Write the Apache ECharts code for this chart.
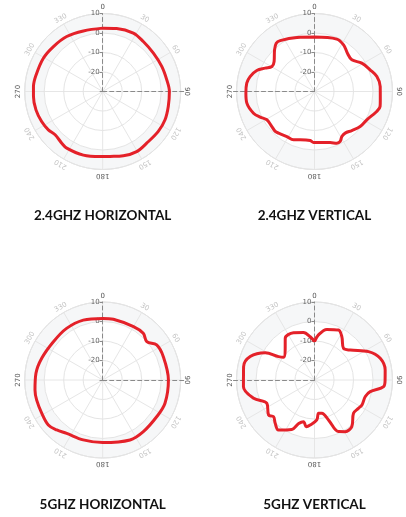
<!DOCTYPE html>
<html><head><meta charset="utf-8">
<script src="https://cdn.jsdelivr.net/npm/echarts@6/dist/echarts.min.js"></script>
<style>html,body{margin:0;padding:0;background:#fff}#c{width:406px;height:517px}</style>
</head><body><div id="c"></div>
<script>
// ---- tick labels ----
const angleTicks = [0,30,60,90,120,150,180,210,240,270,300,330];
const angleTickLabels = ['0','30','60','90','120','150','180','210','240','270','300','330'];
const majorAngleLabels = ['0','90','180','270'];
const radiusMin = -30, radiusMax = 10, radiusStep = 10;
const titles = ['2.4GHZ HORIZONTAL','2.4GHZ VERTICAL','5GHZ HORIZONTAL','5GHZ VERTICAL'];

// ---- data: angle (deg) and gain (dB) ----
const h24Angles = [0,12.5,27.7,39.1,52.9,67,79.7,90,102.9,114.4,125.7,139.6,150.5,162.2,173.6,182.3,196.9,212.4,218.4,227.7,234.8,243.8,254.6,265.9,274.1,284,299.3,312.4,326.8,342.3];
const h24Gain   = [2.5,3.1,3.8,3.0,2.6,2.9,3.4,4.2,4.5,5.1,5.1,4.8,5.4,4.6,3.5,3.4,4.1,4.4,3.8,3.0,4.1,4.9,5.5,5.6,5.6,5.2,4.9,4.2,3.7,2.6];

const v24Angles = [0,23,31.9,40.7,49.7,59,68.7,76.5,85.6,97,102.9,107.8,118.4,127.5,136.3,143.6,148.7,152.8,156.6,163,181,185,196.5,203.5,211.6,220.8,224.5,230.6,239.3,244.7,250.4,260.2,268.6,277,283,290,295.3,300.4,306.6,316.2,321.6,326,342];
const v24Gain   = [-2.1,-0.8,-1.8,-4.1,-4.9,-1.7,0.6,2.9,3.8,4.0,4.5,3.5,0.5,-0.5,-2.3,-3.5,-3.0,-1.2,-1.1,-2.6,-3.8,-4.8,-4.2,-3.0,-2.9,-1.8,-1.3,-1.7,-1.6,0.8,3.2,5.2,5.2,5.0,3.9,1.5,-2.0,-4.7,-4.2,-0.4,1.6,1.5,-0.9];

const h5Angles = [0,10,30,41,48.9,57,69,90,110.5,124,141.8,155.5,180,198,214,222.6,230.4,241.3,253,261.6,275.7,289.6,307.8,325,342];
const h5Gain   = [1.6,1.6,1.6,1.7,0.0,3.0,3.3,3.7,4.1,3.5,3.7,3.8,2.1,2.3,3.0,4.8,6.2,5.6,5.4,5.1,4.4,3.2,2.0,2.3,2.3];

const v5Angles = [0,5,13.7,25.6,32.2,42.5,50,62.3,71.7,82,90,95.5,101.8,108,117.8,122.8,130.5,141.3,149.3,155,160.7,167.6,173,176.7,185.5,190,194.8,200,204.7,215.8,222.2,228.2,232.7,243.9,253.3,264.6,280.6,290,299,303,306.2,315.6,324.9,336,346.9,354.3];
const v5Gain   = [-10.3,-6.8,-3.3,-1.6,-3.7,-8.0,-6.1,1.3,5.5,6.6,6.2,5.6,-0.8,-2.6,-2.5,-3.2,-3.7,0.6,0.8,-0.8,-8.3,-12.5,-12.8,-9.5,-6.8,-5.7,-7.9,-6.3,-2.1,1.6,0.0,-1.8,-0.4,-2.8,2.6,6.6,7.0,5.1,-1.1,-8.0,-10.3,-8.5,-3.9,-3.5,-5.0,-7.7];

const panels = [
  {center:[102.7, 91.5], side:0,   titleY:216, angles:h24Angles, gain:h24Gain},
  {center:[314.5, 91.5], side:180, titleY:216, angles:v24Angles, gain:v24Gain},
  {center:[102.7, 380],  side:0,   titleY:505, angles:h5Angles,  gain:h5Gain},
  {center:[314.5, 380],  side:180, titleY:505, angles:v5Angles,  gain:v5Gain}
];
const R = 78;
const RED = '#e42129';

const polar = [], angleAxis = [], radiusAxis = [], series = [];
panels.forEach((p, k) => {
  // main polar: grid lines, labels, one tick side
  polar.push({center:p.center, radius:R});
  angleAxis.push({polarIndex:3*k, type:'value', min:0, max:360, interval:30, startAngle:90, clockwise:true, z:2,
    axisLine:{lineStyle:{color:'#dedede', width:1}}, axisTick:{show:false}, axisLabel:{show:false},
    splitLine:{lineStyle:{color:'#e6e6e6', width:1}}});
  radiusAxis.push({polarIndex:3*k, type:'value', min:radiusMin, max:radiusMax, interval:radiusStep, z:3,
    axisLine:{lineStyle:{color:'#8a8a8a', width:1, type:[4,3]}},
    axisTick:{show:true, length:3, lineStyle:{color:'#8a8a8a'}},
    axisLabel:{fontSize:7, color:'#666', margin:3, fontFamily:'DejaVu Sans',
      formatter: v => v === radiusMin ? '' : String(v)},
    splitLine:{lineStyle:{color:'#e4e4e4', width:1}},
    splitArea:{show:false}});
  // background band + other tick side
  polar.push({center:p.center, radius:R});
  angleAxis.push({polarIndex:3*k+1, type:'value', min:0, max:360, startAngle:90, show:false});
  radiusAxis.push({polarIndex:3*k+1, type:'value', min:radiusMin, max:radiusMax, interval:radiusStep, z:1,
    axisLine:{show:false}, axisTick:{show:true, inside:true, length:3, lineStyle:{color:'#8a8a8a'}},
    axisLabel:{show:false}, splitLine:{show:false},
    splitArea:{show:true, areaStyle:{color:['#ffffff','#ffffff','#ffffff','#f6f7f8']}}});
  // horizontal dashed reference line
  polar.push({center:p.center, radius:R + 3});
  angleAxis.push({polarIndex:3*k+2, type:'value', min:0, max:360, startAngle:p.side, show:false});
  radiusAxis.push({polarIndex:3*k+2, type:'value', min:radiusMin, max:radiusMax, z:3,
    axisLine:{lineStyle:{color:'#8a8a8a', width:1, type:[4,3]}}, axisTick:{show:false},
    axisLabel:{show:false}, splitLine:{show:false}, splitArea:{show:false}});

  const data = p.angles.map((a, i) => [p.gain[i], a]);
  data.push([p.gain[0], 360]);
  series.push({type:'line', coordinateSystem:'polar', polarIndex:3*k, data, smooth:0.35,
    showSymbol:false, lineStyle:{color:RED, width:3}, z:5, animation:false});
});

const chart = echarts.init(document.getElementById('c'), null, {renderer:'canvas'});
chart.setOption({animation:false, polar, angleAxis, radiusAxis, series});

// angle labels (tangential) and titles
const graphic = [];
const labelRadiusValue = radiusMax + 3.1;
panels.forEach((p, k) => {
  angleTicks.forEach((a, i) => {
    const pt = chart.convertToPixel({polarIndex:3*k}, [labelRadiusValue, a]);
    const lab = angleTickLabels[i];
    graphic.push({type:'text', x:pt[0], y:pt[1], rotation:-a*Math.PI/180, silent:true,
      style:{text:lab, fill: majorAngleLabels.includes(lab) ? '#555' : '#c4c4c4',
        font:'7px "DejaVu Sans"', align:'center', verticalAlign:'middle'}});
  });
  graphic.push({type:'text', x:p.center[0], y:p.titleY, silent:true,
    style:{text:titles[k], fill:'#111', font:'bold 13.5px Lato', align:'center', verticalAlign:'middle'}});
});
chart.setOption({graphic});
</script>
</body></html>
